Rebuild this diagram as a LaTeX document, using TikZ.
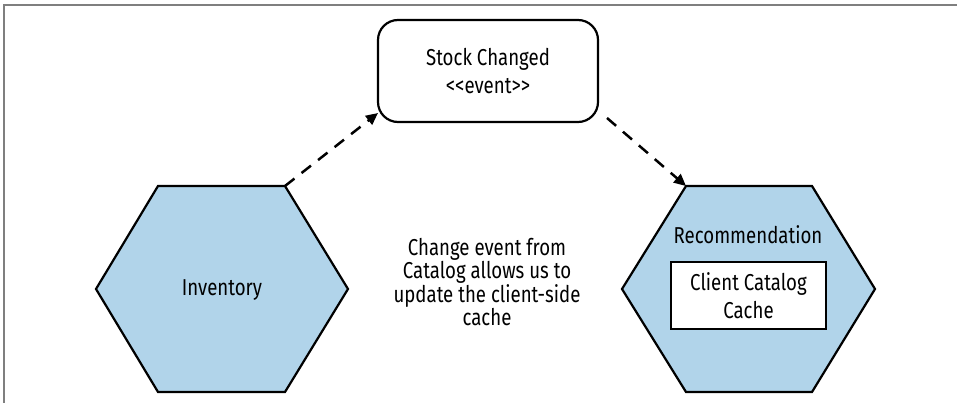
\documentclass[tikz,border=0pt]{standalone}
\usepackage{fontspec}
\setmainfont{Fira Sans}[FakeStretch=0.81]
\usetikzlibrary{arrows.meta}
\definecolor{hexblue}{HTML}{B1D4EA}
\definecolor{framegray}{HTML}{7F7F7F}
\tikzset{
  hexshape/.style={draw=black, fill=hexblue, line width=2.2pt, line join=miter},
  eventbox/.style={draw=black, line width=2.2pt, rounded corners=20pt, align=center, inner sep=0pt},
  cachebox/.style={draw=black, fill=white, line width=2.2pt, align=center, inner sep=0pt},
  lbl/.style={align=center, font=\fontsize{23}{28.5}\selectfont},
  note/.style={align=center, font=\fontsize{23}{23.5}\selectfont},
  dasharrow/.style={line width=2.5pt, dash pattern=on 12pt off 9pt, -{Triangle[length=12pt,width=11pt]}},
}
\begin{document}
\begin{tikzpicture}[x=1pt,y=-1pt]
\useasboundingbox (0,0) rectangle (957,403);
\draw[framegray, line width=1.2pt] (4,403) -- (4,5) -- (957,5);

% Inventory hexagon
\coordinate (invL) at (96,289);
\coordinate (invTL) at (158,186);
\coordinate (invTR) at (285,186);
\coordinate (invR) at (348,289);
\coordinate (invBR) at (285,392);
\coordinate (invBL) at (158,392);
\draw[hexshape] (invL) -- (invTL) -- (invTR) -- (invR) -- (invBR) -- (invBL) -- cycle;
\node[lbl] (inv) at (222,290) {Inventory};

% Recommendation hexagon
\coordinate (recL) at (622,289);
\coordinate (recTL) at (686,186);
\coordinate (recTR) at (812,186);
\coordinate (recR) at (875,289);
\coordinate (recBR) at (812,392);
\coordinate (recBL) at (686,392);
\draw[hexshape] (recL) -- (recTL) -- (recTR) -- (recR) -- (recBR) -- (recBL) -- cycle;
\node[lbl] (rec) at (748,235) {Recommendation};
\node[cachebox, lbl, minimum width=155pt, minimum height=67pt] (cache) at (748.5,295.5) {Client Catalog\\Cache};

% Event box
\node[eventbox, lbl, minimum width=220pt, minimum height=102pt] (evt) at (488,71) {Stock Changed\\<{}<event>{}>};

% Note
\node[note] (note) at (487,282) {Change event from\\Catalog allows us to\\update the client-side\\cache};

% Connectors
\coordinate (evtIn) at (378,113);
\coordinate (evtOut) at (607,118);
\draw[dasharrow] (invTR) -- (evtIn);
\draw[dasharrow] (evtOut) -- (recTL);
\end{tikzpicture}
\end{document}
